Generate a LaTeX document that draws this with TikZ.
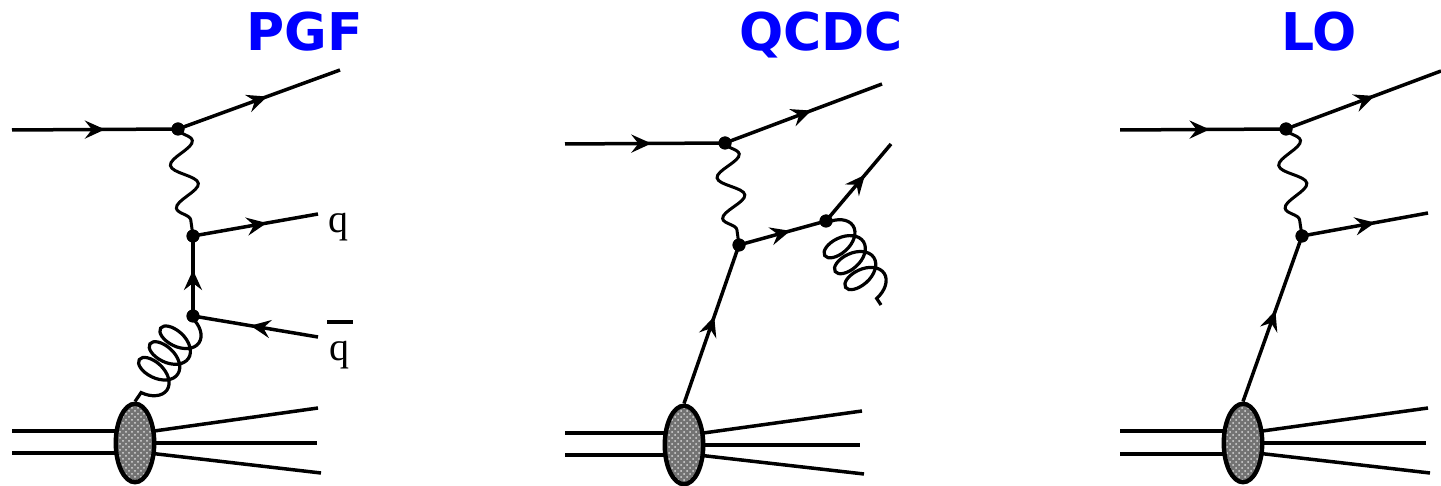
\documentclass[tikz,border=0pt]{standalone}
\usepackage{fontspec}
\newfontfamily\titlefont{DejaVu Sans}
\newfontfamily\labfont{Liberation Serif}
\usetikzlibrary{arrows.meta,decorations.markings,decorations.pathmorphing,shapes.geometric,patterns,calc}
\tikzset{
  plain/.style={line width=1.75pt},
  fermion/.style={line width=1.75pt, postaction={decorate},
    decoration={markings, mark=at position #1 with {\arrow{Stealth[length=10pt,width=9pt,inset=3.5pt]}}}},
  fermion/.default=0.56,
  photon/.style={line width=1.5pt, decorate, decoration={snake, segment length=#1, amplitude=6.3pt}},
  gluon/.style={line width=1.6pt, decorate, decoration={coil, aspect=0.6, segment length=#1, amplitude=10pt, pre length=1pt, post length=1pt}},
  gluon/.default=9.5pt,
  vtx/.style={circle, fill=black, inner sep=0pt, minimum size=6.5pt},
  blob/.style={ellipse, draw, line width=2.2pt, minimum width=19.25pt, minimum height=39.25pt, inner sep=0pt,
    preaction={fill=black!55}, pattern=crosshatch dots, pattern color=white!85!black},
  title/.style={text=blue, font=\titlefont\bfseries\fontsize{26}{30}\selectfont, anchor=base},
  qlab/.style={font=\labfont\fontsize{20}{24}\selectfont, anchor=base, inner sep=0pt}
}
\begin{document}
\begin{tikzpicture}[x=0.5pt,y=-0.5pt]
\useasboundingbox (0,0) rectangle (1441,486);

% ================= PGF =================
\node[title] (ta) at (305,51) {PGF};
\coordinate (a_in) at (12,130);
\node[vtx] (a_v1) at (178,129) {};
\coordinate (a_eout) at (340,70);
\node[vtx] (a_v2) at (193,236) {};
\coordinate (a_q) at (318,214);
\node[vtx] (a_v3) at (193,316) {};
\coordinate (a_qb) at (318,337);
\coordinate (a_p1) at (12,431);
\coordinate (a_p2) at (12,453);
\coordinate (a_o1) at (318,408);
\coordinate (a_o2) at (317,443);
\coordinate (a_o3) at (321,473);
\coordinate (a_s1) at (140,433);
\coordinate (a_s2) at (140,443);
\coordinate (a_s3) at (140,452);
\node[qlab] (a_ql) at (338,233) {q};
\node[qlab] (a_qbl) at (339,361) {\makebox[0pt][l]{\hspace{-1pt}\raisebox{18.5pt}{\rule{13pt}{2pt}}}q};

\draw[fermion] (a_in) -- (a_v1.center);
\draw[fermion=0.55] (a_v1.center) -- (a_eout);
\draw[photon=21.6pt] (a_v1.center) -- (a_v2.center);
\draw[fermion=0.59] (a_v2.center) -- (a_q);
\draw[fermion=0.575] (a_v3.center) -- (a_v2.center);
\draw[fermion=0.54] (a_qb) -- (a_v3.center);
\draw[plain] (a_p1) -- (a_p1 -| a_s1);
\draw[plain] (a_p2) -- (a_p2 -| a_s1);
\draw[plain] (a_s1) -- (a_o1);
\draw[plain] (a_s2) -- (a_o2);
\draw[plain] (a_s3) -- (a_o3);
\node[blob] (a_blob) at (135,443) {};
\draw[gluon] (a_v3.center) -- (a_blob.north);
\node[vtx] at (a_v1) {};
\node[vtx] at (a_v2) {};
\node[vtx] at (a_v3) {};

% ================= QCDC =================
\node[title] (tb) at (821,51) {QCDC};
\coordinate (b_in) at (565,144);
\node[vtx] (b_v1) at (725,143) {};
\coordinate (b_eout) at (882,84);
\node[vtx] (b_v2) at (739,245) {};
\node[vtx] (b_v3) at (826,221) {};
\coordinate (b_qout) at (891,144);
\coordinate (b_gend) at (881,305);
\coordinate (b_p1) at (565,433);
\coordinate (b_p2) at (565,455);
\coordinate (b_o1) at (862,411);
\coordinate (b_o2) at (860,445);
\coordinate (b_o3) at (864,474);
\coordinate (b_s1) at (689,435);
\coordinate (b_s2) at (689,445);
\coordinate (b_s3) at (689,454);

\draw[fermion=0.54] (b_in) -- (b_v1.center);
\draw[fermion=0.55] (b_v1.center) -- (b_eout);
\draw[photon=20.6pt] (b_v1.center) -- (b_v2.center);
\draw[fermion=0.59] (b_v2.center) -- (b_v3.center);
\draw[fermion=0.6] (b_v3.center) -- (b_qout);
\draw[gluon=9.5pt] (b_v3.center) -- (b_gend);
\draw[plain] (b_p1) -- (b_p1 -| b_s1);
\draw[plain] (b_p2) -- (b_p2 -| b_s1);
\draw[plain] (b_s1) -- (b_o1);
\draw[plain] (b_s2) -- (b_o2);
\draw[plain] (b_s3) -- (b_o3);
\node[blob] (b_blob) at (684,445) {};
\draw[fermion=0.55] (b_blob.north) -- (b_v2.center);
\node[vtx] at (b_v1) {};
\node[vtx] at (b_v2) {};
\node[vtx] at (b_v3) {};

% ================= LO =================
\node[title] (tc) at (1319,51) {LO};
\coordinate (c_in) at (1120,130);
\node[vtx] (c_v1) at (1286,129) {};
\coordinate (c_eout) at (1441,71);
\node[vtx] (c_v2) at (1302,236) {};
\coordinate (c_qout) at (1428,213);
\coordinate (c_p1) at (1120,431);
\coordinate (c_p2) at (1120,454);
\coordinate (c_o1) at (1428,408);
\coordinate (c_o2) at (1426,443);
\coordinate (c_o3) at (1430,473);
\coordinate (c_s1) at (1248,433);
\coordinate (c_s2) at (1248,443);
\coordinate (c_s3) at (1248,452);

\draw[fermion=0.54] (c_in) -- (c_v1.center);
\draw[fermion=0.57] (c_v1.center) -- (c_eout);
\draw[photon=21.6pt] (c_v1.center) -- (c_v2.center);
\draw[fermion=0.58] (c_v2.center) -- (c_qout);
\draw[plain] (c_p1) -- (c_p1 -| c_s1);
\draw[plain] (c_p2) -- (c_p2 -| c_s1);
\draw[plain] (c_s1) -- (c_o1);
\draw[plain] (c_s2) -- (c_o2);
\draw[plain] (c_s3) -- (c_o3);
\node[blob] (c_blob) at (1243,443) {};
\draw[fermion=0.55] (c_blob.north) -- (c_v2.center);
\node[vtx] at (c_v1) {};
\node[vtx] at (c_v2) {};
\end{tikzpicture}
\end{document}
